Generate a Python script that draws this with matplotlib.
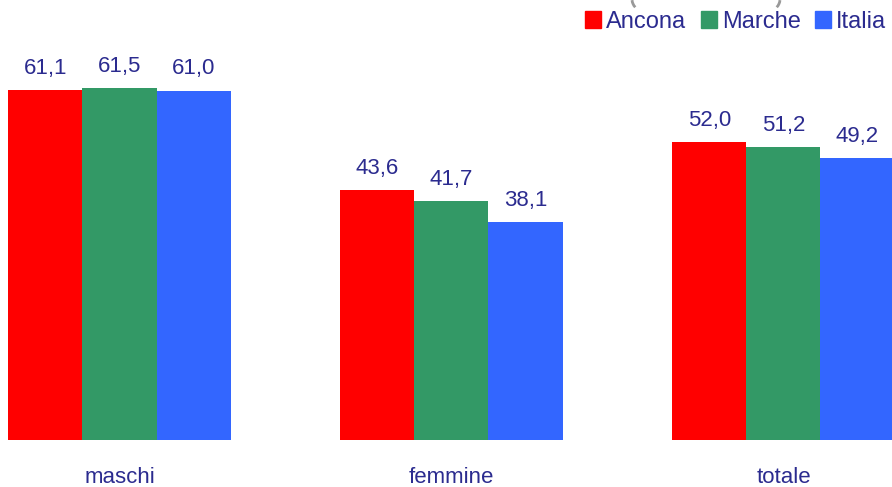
import matplotlib
matplotlib.use("Agg")
import matplotlib.pyplot as plt
from matplotlib.patches import Arc
import numpy as np

categories = ["maschi", "femmine", "totale"]
series_names = ["Ancona", "Marche", "Italia"]
ancona = [61.1, 43.6, 52.0]
marche = [61.5, 41.7, 51.2]
italia = [61.0, 38.1, 49.2]
colors = ["#FF0000", "#339966", "#3366FF"]
text_color = "#2B2B8F"

plt.rcParams['font.family'] = ['Liberation Sans', 'DejaVu Sans']

fig = plt.figure(figsize=(8.92, 4.87), dpi=100)
ax = fig.add_axes([0, 47/487, 1, 440/487])

x = np.arange(len(categories))
w = 0.223
for i, (vals, col) in enumerate(zip([ancona, marche, italia], colors)):
    bars = ax.bar(x + (i - 1) * w, vals, width=w, color=col, edgecolor='none')
    for b, v in zip(bars, vals):
        ax.annotate(f"{v:.1f}".replace(".", ","), (b.get_x() + b.get_width() / 2, v),
                    xytext=(0, 8), textcoords='offset points', ha='center', va='bottom',
                    fontsize=16, color=text_color)

ax.set_xlim(-0.36, 2.327)
ax.set_ylim(0, 76.8)
ax.axis('off')

for xi, c in zip(x, categories):
    ax.annotate(c, (xi, 0), xytext=(0, -27), textcoords='offset points', ha='center',
                va='center', fontsize=16, color=text_color, annotation_clip=False)

# legend
handles = [plt.Rectangle((0, 0), 1, 1, color=c) for c in colors]
leg = fig.legend(handles, series_names, loc='upper right', bbox_to_anchor=(1.012, 1.012),
                 ncol=3, frameon=False, fontsize=17, handlelength=0.7, handleheight=0.7,
                 handletextpad=0.2, columnspacing=0.6, borderaxespad=0.3)
for t in leg.get_texts():
    t.set_color(text_color)

# tails of the cropped title brackets at the top edge
W, H = 892, 487
for cx, t1, t2 in [(644, 190, 240), (768, 300, 350)]:
    arc = Arc((cx / W, 1 + 1 / H), 24 / W, 24 / H, theta1=t1, theta2=t2,
              transform=fig.transFigure, color="#999999", lw=2)
    fig.add_artist(arc)

fig.savefig("out.png", dpi=100)
